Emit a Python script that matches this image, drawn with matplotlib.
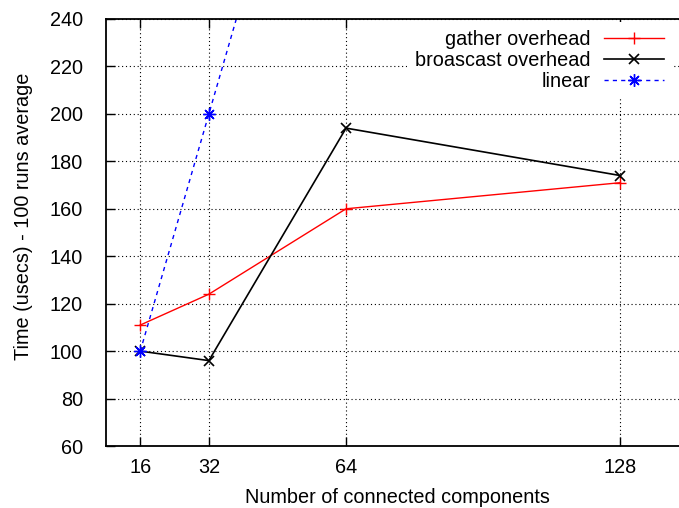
import matplotlib
matplotlib.use('Agg')
import matplotlib.pyplot as plt

# data
components = [16, 32, 64, 128]
gather = [111, 124, 160, 171]
broadcast = [100, 96, 194, 174]
linear = [100, 200, 400, 800]

plt.rcParams['font.family'] = ['Liberation Sans', 'DejaVu Sans']

fig = plt.figure(figsize=(6.79, 5.08), dpi=100)
ax = fig.add_axes([106 / 679, 62 / 508, (689 - 106) / 679, 427 / 508])

ax.plot(components, gather, color='red', lw=1.0, marker='+', ms=8, mew=1.0,
        label='gather overhead')
ax.plot(components, broadcast, color='black', lw=1.2, marker='x', ms=7, mew=1.2,
        label='broascast overhead')
ax.plot(components, linear, color='blue', lw=1.0, ls=(0, (3, 3)), marker=(8, 2, 0),
        ms=9, mew=1.0, label='linear')

ax.set_xlim(8, 144)
ax.set_ylim(60, 240)
ax.set_xticks(components)
ax.set_yticks(range(60, 241, 20))
ax.grid(True, color='black', ls=(0, (1, 2.5)), lw=0.8)

ax.tick_params(direction='in', length=6.5, width=1, top=True, right=True,
               labelsize=14.3)
ax.tick_params(axis='y', pad=16.5)
ax.tick_params(axis='x', pad=8.5)
for s in ax.spines.values():
    s.set_linewidth(1.3)

ax.set_xlabel('Number of connected components', fontsize=14.3)
ax.set_ylabel('Time (usecs) - 100 runs average', fontsize=14.3)
ax.xaxis.set_label_coords((397.5 - 106) / (689 - 106), -42 / 427)
ax.yaxis.set_label_coords(-73 / (689 - 106), (446 - 216) / 427)

leg = ax.legend(loc='upper right', bbox_to_anchor=(672 / 679, (508 - 22) / 508),
                bbox_transform=fig.transFigure, markerfirst=False, fontsize=14.3,
                handlelength=3.0, handletextpad=0.7, labelspacing=0.1,
                borderpad=0.4, borderaxespad=0, fancybox=False, framealpha=1)
leg.get_frame().set_edgecolor('none')

fig.savefig('out.png', dpi=100)
